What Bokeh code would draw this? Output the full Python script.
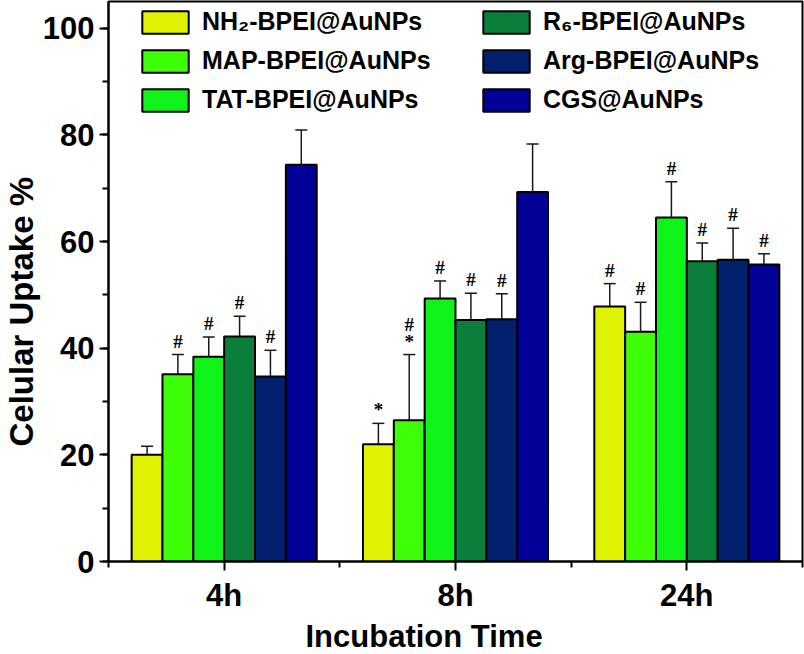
from bokeh.plotting import figure
from bokeh.models import (ColumnDataSource, Whisker, TeeHead, Legend, LegendItem,
                          FixedTicker, SingleIntervalTicker, Range1d, Title)
from bokeh.embed import file_html
from bokeh.resources import INLINE

# Incubation time points
groups = ["4h", "8h", "24h"]

# Series (nanoparticle formulations)
series = ["NH\u2082-BPEI@AuNPs", "MAP-BPEI@AuNPs", "TAT-BPEI@AuNPs",
          "R\u2086-BPEI@AuNPs", "Arg-BPEI@AuNPs", "CGS@AuNPs"]
colors = ["#DFF200", "#3EFF08", "#10F318", "#0A7F3C", "#03206F", "#020096"]

# Mean cellular uptake (%) per series, one value per time point
nh2 = [20.0, 22.0, 47.8]
map_ = [35.1, 26.5, 43.1]
tat = [38.4, 49.3, 64.5]
r6 = [42.2, 45.3, 56.3]
arg = [34.7, 45.4, 56.6]
cgs = [74.4, 69.3, 55.7]

# Standard deviations
nh2_err = [1.6, 3.9, 4.3]
map_err = [3.7, 12.3, 5.5]
tat_err = [3.7, 3.3, 6.7]
r6_err = [3.8, 5.0, 3.4]
arg_err = [4.9, 4.8, 5.9]
cgs_err = [6.5, 9.0, 2.0]

# Significance marks above each bar
nh2_sig = ["", "*", "#"]
map_sig = ["#", "#\n*", "#"]
tat_sig = ["#", "#", "#"]
r6_sig = ["#", "#", "#"]
arg_sig = ["#", "#", "#"]
cgs_sig = ["", "", "#"]

means = [nh2, map_, tat, r6, arg, cgs]
errs = [nh2_err, map_err, tat_err, r6_err, arg_err, cgs_err]
sigs = [nh2_sig, map_sig, tat_sig, r6_sig, arg_sig, cgs_sig]

FONT = "Liberation Sans"

p = figure(width=804, height=654, output_backend="svg", toolbar_location=None,
           x_range=Range1d(0.5, 3.5), y_range=Range1d(0, 105),
           min_border_left=108, min_border_right=2, min_border_top=1,
           min_border_bottom=93)
p.xgrid.visible = False
p.ygrid.visible = False
p.outline_line_color = "black"
p.outline_line_width = 2
p.background_fill_color = "white"

n = len(series)
group_width = 0.8
bar_w = group_width / n
centers = list(range(1, len(groups) + 1))

renderers = []
for j in range(n):
    xs = [c + (j - (n - 1) / 2) * bar_w for c in centers]
    src = ColumnDataSource(dict(
        x=xs, top=means[j],
        upper=[m + e for m, e in zip(means[j], errs[j])],
        lower=[m - e for m, e in zip(means[j], errs[j])],
        sig=sigs[j]))
    r = p.vbar(x="x", top="top", width=bar_w, source=src, fill_color=colors[j],
               line_color="black", line_width=2)
    renderers.append(r)
    w = Whisker(base="x", upper="upper", lower="lower", source=src,
                line_color="#1a1a1a", line_width=1.5,
                upper_head=TeeHead(size=12, line_color="#1a1a1a", line_width=1.5),
                lower_head=TeeHead(size=12, line_color="#1a1a1a", line_width=1.5))
    p.add_layout(w)
    p.text(x="x", y="upper", text="sig", source=src, text_align="center",
           text_baseline="bottom", y_offset=-3, text_font_size="19px",
           text_font=FONT, text_font_style="bold", text_color="black",
           text_line_height=0.8)

# Two legend columns
def make_legend(idx, xloc):
    items = [LegendItem(label=series[i], renderers=[renderers[i]]) for i in idx]
    lg = Legend(items=items, location=(xloc, 447), orientation="vertical",
                border_line_color=None, background_fill_alpha=0, padding=0,
                margin=0, spacing=10, glyph_width=58, glyph_height=28,
                label_height=28, label_standoff=8, label_text_font=FONT,
                label_text_font_style="bold", label_text_font_size="25px",
                label_text_color="black")
    p.add_layout(lg, "center")

make_legend([0, 1, 2], 28)
make_legend([3, 4, 5], 369)

# X axis
p.xaxis.ticker = FixedTicker(ticks=centers, minor_ticks=[0.5, 1.5, 2.5, 3.5])
p.xaxis.major_label_overrides = {c: g for c, g in zip(centers, groups)}

# Y axis
p.yaxis.ticker = SingleIntervalTicker(interval=20, num_minor_ticks=2)

for ax in (p.xaxis, p.yaxis):
    ax.axis_line_width = 2
    ax.axis_line_color = "black"
    ax.major_tick_line_width = 2
    ax.minor_tick_line_width = 2
    ax.major_tick_in = 0
    ax.major_tick_out = 9
    ax.minor_tick_in = 0
    ax.minor_tick_out = 6
    ax.major_label_text_font = FONT
    ax.major_label_text_font_style = "bold"
    ax.major_label_text_font_size = "31px"
    ax.major_label_text_color = "black"

p.xaxis.major_label_standoff = 7
p.yaxis.major_label_standoff = 5

# Axis titles
x_title = Title(text="Incubation Time", align="left", offset=197,
                text_font=FONT, text_font_style="bold", text_font_size="31px",
                text_color="black", standoff=2)
p.add_layout(x_title, "below")
y_title = Title(text="Celular Uptake %", align="left", offset=115,
                text_font=FONT, text_font_style="bold", text_font_size="33px",
                text_color="black", standoff=0)
p.add_layout(y_title, "left")

open("out.html", "w").write(file_html(p, INLINE))
